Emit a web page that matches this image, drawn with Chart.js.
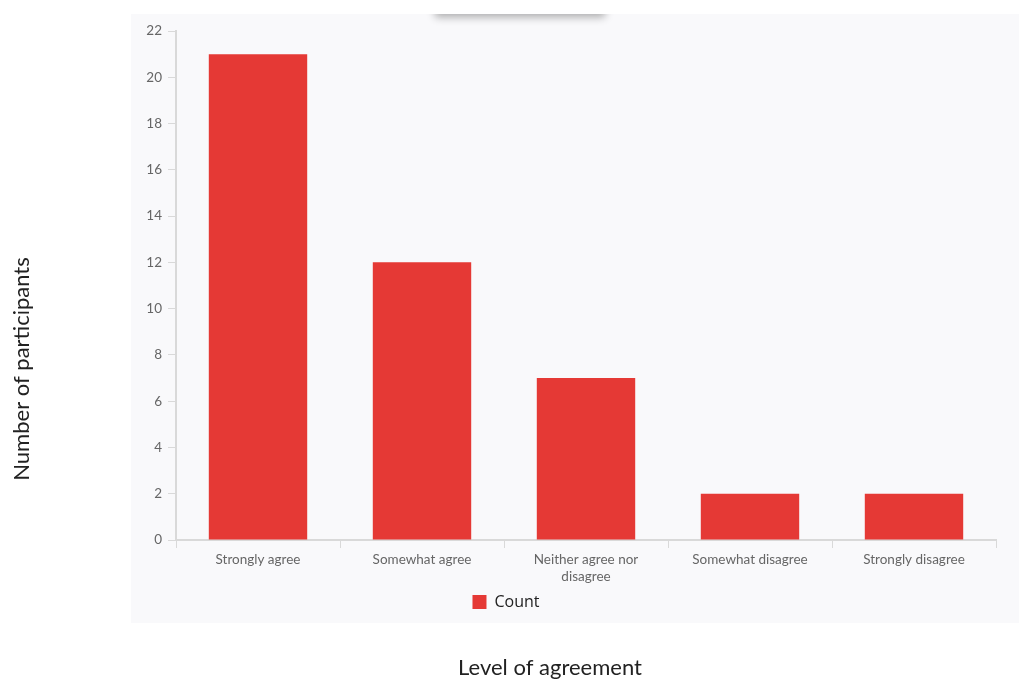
<!DOCTYPE html>
<html>
<head>
<meta charset="utf-8">
<script src="https://cdn.jsdelivr.net/npm/chart.js@4"></script>
<style>
  html, body { margin: 0; padding: 0; background: #ffffff; }
  #wrap { position: relative; width: 1019px; height: 680px; overflow: hidden; }
  #panel { position: absolute; left: 131px; top: 14px; width: 888px; height: 609px;
           background: #f9f9fb; overflow: hidden; }
  #tab { position: absolute; left: 304px; top: -20px; width: 170px; height: 20px;
         background: #eeeeee; box-shadow: 0 3px 9px rgba(0,0,0,0.32); }
  #c { position: absolute; left: 0; top: 0; }
</style>
</head>
<body>
<div id="wrap">
  <div id="panel"><div id="tab"></div></div>
  <canvas id="c" width="1019" height="680"></canvas>
</div>
<script>
// Survey responses: level of agreement
const categories = ['Strongly agree', 'Somewhat agree', ['Neither agree nor', 'disagree'], 'Somewhat disagree', 'Strongly disagree'];
const counts = [21, 12, 7, 2, 2];
const seriesName = 'Count';
const yMax = 22;
const yStep = 2;
const xTitle = 'Level of agreement';
const yTitle = 'Number of participants';

const barColor = '#e53935';
const axisColor = '#d9d9d9';
const tickColor = '#666666';

// Axis titles sit outside the plotting panel, so they are painted separately
const axisTitles = {
  id: 'axisTitles',
  afterDraw(chart) {
    const ctx = chart.ctx;
    ctx.save();
    ctx.fillStyle = '#222222';
    ctx.font = '22px Lato';
    ctx.textAlign = 'center';
    ctx.textBaseline = 'middle';
    ctx.fillText(xTitle, 550, 668);
    ctx.translate(22, 369);
    ctx.rotate(-Math.PI / 2);
    ctx.fillText(yTitle, 0, 0);
    ctx.restore();
  }
};

new Chart(document.getElementById('c'), {
  type: 'bar',
  data: {
    labels: categories,
    datasets: [{
      label: seriesName,
      data: counts,
      backgroundColor: barColor,
      borderWidth: 0,
      barPercentage: 0.6,
      categoryPercentage: 1.0
    }]
  },
  options: {
    responsive: false,
    animation: false,
    layout: { padding: { left: 16, right: 23, top: 31, bottom: 60 } },
    plugins: {
      tooltip: { enabled: false },
      legend: {
        position: 'bottom',
        labels: {
          boxWidth: 14, boxHeight: 14, padding: 8,
          color: '#222222',
          font: { family: 'Open Sans', size: 16 }
        }
      }
    },
    scales: {
      x: {
        grid: { drawOnChartArea: false, drawTicks: true, tickLength: 8, color: axisColor, offset: true },
        border: { color: axisColor, width: 2 },
        ticks: { color: tickColor, padding: 4, font: { family: 'Lato', size: 13.5, lineHeight: 1.2 }, maxRotation: 0 },
        afterFit(scale) { scale.height = 46; }
      },
      y: {
        min: 0, max: yMax,
        grid: { drawOnChartArea: false, drawTicks: true, tickLength: 8, color: axisColor },
        border: { color: axisColor, width: 2 },
        ticks: { stepSize: yStep, color: tickColor, padding: 6, font: { family: 'Lato', size: 13.5 } },
        afterFit(scale) { scale.width = 160; }
      }
    }
  },
  plugins: [axisTitles]
});
</script>
</body>
</html>
